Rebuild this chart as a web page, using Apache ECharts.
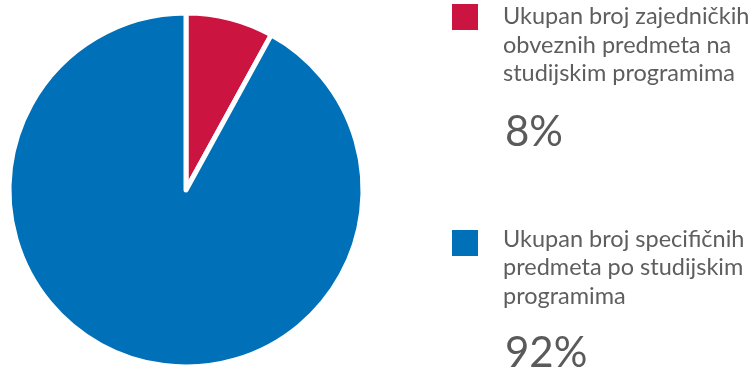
<!DOCTYPE html>
<html>
<head>
<meta charset="utf-8">
<script src="https://cdn.jsdelivr.net/npm/echarts@6/dist/echarts.min.js"></script>
<style>
html,body{margin:0;padding:0;background:#fff;}
#chart{width:748px;height:376px;}
</style>
</head>
<body>
<div id="chart"></div>
<script>
// Share of courses: common mandatory vs. programme-specific
var categories = [
  'Ukupan broj zajedničkih obveznih predmeta na studijskim programima',
  'Ukupan broj specifičnih predmeta po studijskim programima'
];
var values = [8, 92];
var colors = ['#cc1440', '#0070b9'];
// Wrapped legend text, one array per category
var legendLines = [
  ['Ukupan broj zajedničkih', 'obveznih predmeta na', 'studijskim programima'],
  ['Ukupan broj specifičnih', 'predmeta po studijskim', 'programima']
];

var chart = echarts.init(document.getElementById('chart'));

var fontFamily = 'Lato, "Open Sans", sans-serif';
// legend block layout: swatch top, first text line top, percentage top
var swatchTop = [4, 230];
var textTop = [4.5, 227];
var pctTop = [111, 332];
var graphics = [];
categories.forEach(function (c, i) {
  graphics.push({
    type: 'rect',
    left: 452, top: swatchTop[i],
    shape: { width: 26, height: 26 },
    style: { fill: colors[i] }
  });
  legendLines[i].forEach(function (line, j) {
    graphics.push({
      type: 'text',
      left: 503, top: textTop[i] + j * 28.5,
      style: { text: line, fill: '#5e5e5e', font: '23.5px ' + fontFamily }
    });
  });
  graphics.push({
    type: 'text',
    left: 505, top: pctTop[i],
    style: { text: values[i] + '%', fill: '#5a5a5a', font: '42px ' + fontFamily }
  });
});

chart.setOption({
  animation: false,
  backgroundColor: '#ffffff',
  graphic: graphics,
  series: [{
    type: 'pie',
    center: [186, 190],
    radius: 177,
    startAngle: 90,
    clockwise: true,
    label: { show: false },
    labelLine: { show: false },
    silent: true,
    itemStyle: { borderColor: '#ffffff', borderWidth: 5 },
    data: categories.map(function (c, i) {
      return { name: c, value: values[i], itemStyle: { color: colors[i] } };
    })
  }]
});
</script>
</body>
</html>
